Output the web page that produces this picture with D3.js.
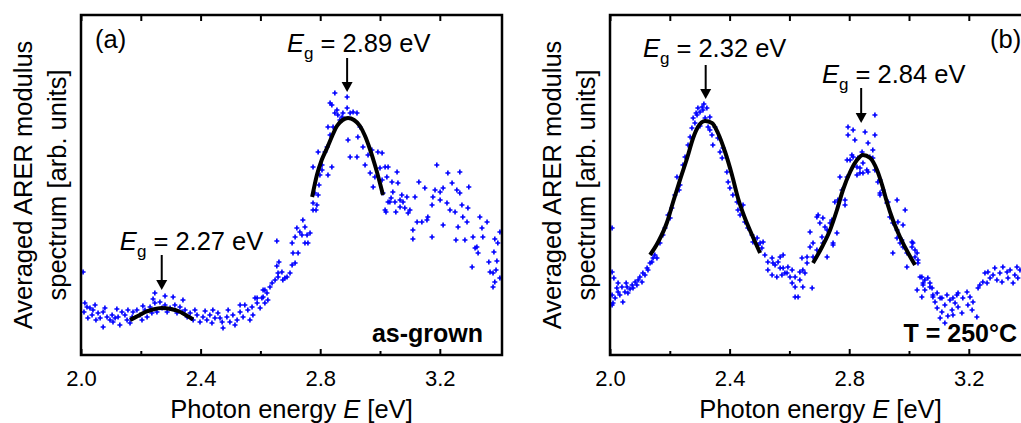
<!DOCTYPE html>
<html>
<head>
<meta charset="utf-8">
<script src="https://cdn.jsdelivr.net/npm/d3@7"></script>
<style>
body { margin: 0; background: #fff; }
text { font-family: "Liberation Sans", Arial, sans-serif; fill: #000; }
</style>
</head>
<body>
<div id="chart"></div>
<script>
// x axis ticks (photon energy, eV)
var xTicks = [2.0, 2.4, 2.8, 3.2];
var xMinorTicks = [2.2, 2.6, 3.0];
var panelNames = ["(a)", "(b)"];
var sampleNames = ["as-grown", "T = 250\u00b0C"];

// (a) as-grown: averaged ARER modulus, [E (eV), value (arb. units)]
var asGrownPoints = [
  [2.007,.83],[2.013,.52],[2.020,.48],[2.010,.43],[2.030,.47],[2.040,.45],[2.047,.50],[2.037,.40],[2.057,.42],[2.064,.37],
  [2.074,.43],[2.087,.38],[2.097,.35],[2.104,.40],[2.107,.33],[2.114,.37],[2.124,.38],[2.130,.30],[2.074,.28],[2.137,.43],
  [2.147,.40],[2.154,.35],[2.164,.32],[2.171,.38],[2.174,.43],[2.187,.45],[2.197,.40],[2.204,.35],[2.214,.45],[2.221,.38],
  [2.231,.48],[2.237,.42],[2.247,.52],[2.254,.43],[2.247,.62],[2.264,.53],[2.271,.47],[2.281,.50],[2.288,.43],[2.298,.47],
  [2.308,.58],[2.314,.50],[2.321,.42],[2.331,.48],[2.338,.43],[2.348,.45],[2.355,.38],[2.365,.42],[2.375,.35],[2.388,.40],
  [2.398,.33],[2.408,.38],[2.421,.35],[2.431,.40],[2.438,.32],[2.448,.37],[2.458,.42],[2.472,.33],[2.475,.27],[2.488,.38],
  [2.498,.33],[2.508,.40],[2.522,.35],[2.532,.43],[2.542,.38],[2.548,.50],[2.558,.45],[2.572,.48],[2.575,.40],[2.589,.52],
  [2.599,.47],[2.605,.57],[2.615,.52],[2.622,.62],[2.632,.68],[2.639,.72],[2.649,.75],[2.655,.89],[2.659,.82],
  [2.023,.37],[2.050,.35],[2.080,.47],[2.120,.46],[2.157,.45],[2.207,.49],[2.241,.56],[2.281,.59],[2.341,.55],[2.381,.45],
  [2.415,.44],[2.441,.45],[2.465,.37],[2.492,.45],[2.515,.30],[2.532,.50],[2.565,.35],[2.582,.57],[2.625,.55],[2.609,.65],
  [2.589,.57],[2.609,.58],[2.615,.65],[2.659,.78],[2.672,.83],[2.675,.75],[2.682,.77],[2.689,.78],[2.699,.82],[2.706,.90],
  [2.716,.92],[2.709,1.02],[2.726,1.02],[2.662,.93],[2.655,1.14],[2.706,1.12],[2.716,1.18],[2.722,1.27],[2.732,1.23],[2.739,1.20],
  [2.749,1.28],[2.742,1.35],[2.756,1.20],[2.759,1.12],[2.749,1.12],[2.766,1.22],
  [2.776,1.52],[2.789,1.50],[2.782,1.62],[2.793,1.60],[2.776,1.45],[2.786,1.45],[2.776,1.88],[2.799,1.80],[2.806,1.90],[2.793,2.03],
  [2.816,2.03],[2.823,2.08],[2.833,2.20],[2.826,2.28],[2.843,2.28],[2.849,2.42],[2.856,2.45],[2.859,2.40],[2.873,2.38],[2.876,2.42],
  [2.890,2.47],[2.900,2.42],[2.910,2.43],[2.923,2.42],[2.839,2.50],[2.849,2.62],[2.890,2.58],[2.893,2.15],[2.900,1.98],[2.923,1.98],
  [2.926,2.18],[2.933,2.28],[2.943,2.08],[2.950,1.90],[2.960,2.00],[2.973,2.05],[2.983,1.78],[2.993,2.03],[3.000,1.87],[3.007,1.75],
  [3.017,1.88],[3.023,1.78],[3.017,1.45],[3.027,1.53],[2.967,1.82],[2.977,1.68],[3.010,1.62],[2.833,2.52],[2.839,1.88],[2.826,1.80],
  [2.806,1.85],[2.796,1.70],[2.866,2.35],
  [3.007,2.02],[3.027,1.88],[3.057,1.83],[3.040,1.73],[3.060,1.72],[3.043,1.63],[3.033,1.53],[3.050,1.53],[3.067,1.55],[3.077,1.53],
  [3.073,1.60],[3.090,1.58],[3.020,1.43],[3.053,1.43],[3.083,1.47],[3.100,1.45],[3.094,1.42],[3.117,1.58],[3.130,1.73],[3.150,1.67],
  [3.110,1.25],[3.110,1.16],[3.124,1.33],[3.140,1.33],[3.157,1.35],[3.160,1.38],[3.174,1.50],[3.177,1.58],[3.190,1.90],[3.184,1.65],
  [3.201,1.63],[3.201,1.55],[3.211,1.67],[3.227,1.82],[3.241,1.72],[3.267,1.83],[3.257,1.65],[3.224,1.52],[3.234,1.45],[3.251,1.43],
  [3.211,1.30],[3.174,1.18],[3.261,1.28],[3.274,1.50],[3.294,1.47],[3.297,1.68],[3.267,1.62],[3.277,1.38],[3.291,1.33],[3.254,1.15],
  [3.284,1.15],[3.311,1.18],[3.334,1.38],[3.341,1.27],[3.358,1.33],[3.344,1.18],[3.324,1.08],[3.328,1.02],[3.318,1.07],[3.384,1.16],
  [3.394,1.12],[3.381,1.03],[3.364,.93],[3.391,.94],[3.308,.88],[3.368,.83],[3.378,.82],[3.388,.85],[3.384,.73],[3.378,.68],
  [3.401,1.23],[3.401,.77],[3.037,1.57],[3.067,1.48]
];
var asGrownFitLow = [[2.164,.35],[2.19,.39],[2.215,.43],[2.24,.455],[2.27,.47],[2.30,.46],[2.325,.44],[2.35,.40],[2.375,.355]];
var asGrownFitHigh = [[2.773,1.58],[2.789,1.80],[2.805,1.95],[2.823,2.07],[2.840,2.19],[2.856,2.29],[2.875,2.35],[2.893,2.37],
  [2.913,2.35],[2.933,2.29],[2.950,2.19],[2.965,2.07],[2.983,1.90],[2.998,1.74],[3.010,1.60]];
var asGrownGaps = [2.27, 2.89];

// (b) T = 250 °C
var annealedPoints = [
  [2.007,1.27],[2.007,.83],[2.013,.77],[2.007,.60],[2.017,.57],[2.023,.67],[2.027,.63],[2.040,.68],[2.033,.60],[2.050,.63],
  [2.057,.68],[2.060,.62],[2.074,.70],[2.077,.67],[2.084,.73],[2.090,.70],[2.094,.75],[2.100,.78],[2.107,.73],[2.110,.82],
  [2.117,.80],[2.124,.87],[2.127,.85],[2.134,.92],[2.140,.93],[2.144,.97],[2.150,1.00],[2.157,.97],[2.043,.53],[2.010,.52],
  [2.027,.72],[2.007,.50],[2.067,.66],[2.054,.72],
  [2.167,1.12],[2.177,1.20],[2.184,1.27],[2.194,1.40],[2.207,1.47],[2.217,1.60],[2.224,1.78],[2.234,1.70],[2.244,1.90],[2.251,1.98],
  [2.261,2.10],[2.268,2.18],[2.274,2.27],[2.278,2.37],[2.284,2.32],[2.291,2.40],[2.294,2.47],[2.308,2.48],[2.311,2.45],[2.324,2.47],
  [2.318,2.37],[2.328,2.28],[2.334,2.25],[2.341,2.20],[2.344,2.10],[2.351,2.28],[2.361,2.17],[2.368,2.03],[2.375,1.97],[2.378,2.07],
  [2.391,1.83],[2.395,1.73],[2.401,1.67],[2.411,1.60],[2.425,1.53],[2.428,1.45],[2.435,1.40],[2.445,1.50],[2.451,1.33],[2.461,1.27],
  [2.475,1.20],[2.478,1.13],[2.492,1.17],[2.495,1.10],[2.502,1.12],[2.508,1.07],[2.512,1.13],[2.301,2.43],[2.288,2.42],[2.314,2.51],
  [2.334,2.38],[2.301,2.29],[2.201,1.37],[2.231,1.65],
  [2.518,1.00],[2.528,.93],[2.542,.97],[2.552,.90],[2.562,.93],[2.569,.87],[2.575,.80],[2.528,.85],[2.542,.80],[2.558,.78],
  [2.545,.92],[2.569,.98],[2.579,.87],[2.592,.82],[2.602,.78],[2.609,.72],[2.619,.68],[2.635,.75],[2.645,.68],[2.652,.82],
  [2.659,.92],[2.642,.97],[2.629,.58],[2.669,1.08],[2.679,.98],
  [2.692,1.38],[2.702,1.32],[2.709,1.18],[2.712,1.12],[2.726,1.25],[2.736,1.32],[2.746,1.12],[2.759,1.22],[2.762,1.55],[2.776,1.65],
  [2.786,1.50],[2.793,1.78],[2.803,1.95],[2.813,1.98],[2.826,1.88],[2.836,1.82],[2.846,1.92],[2.859,1.85],[2.869,1.98],[2.879,2.05],
  [2.886,1.85],[2.896,1.73],[2.903,1.62],[2.913,1.65],[2.926,1.52],[2.936,1.38],[2.946,1.32],[2.960,1.25],[2.946,1.02],[2.970,1.12],
  [2.980,1.08],[2.993,1.02],[3.010,1.08],[3.020,.98],[3.030,.92],[3.037,.78],[3.047,.72],[3.070,.68],[3.053,.65],[3.080,.58],
  [3.094,.62],[3.110,.57],[3.127,.60],[3.147,.57],[3.164,.62],
  [2.886,2.40],[2.886,2.20],[2.863,2.12],[2.853,2.23],[2.813,2.25],[2.796,2.20],[2.819,2.15],[2.843,2.03],[2.829,1.97],[2.809,2.00],
  [2.793,1.95],[2.836,1.87],[2.826,1.80],[2.846,1.82],[2.863,1.83],[2.879,1.97],[2.903,1.75],[2.903,1.60],[2.930,1.53],[2.960,1.55],
  [2.963,1.33],[2.980,1.30],[2.987,1.45],[2.960,1.17],[2.976,1.15],[3.010,1.13],[3.020,1.05],[2.993,.88],[3.027,.65],[2.769,1.78],
  [2.786,1.55],[2.752,1.53],[2.742,1.35],[2.712,1.37],[2.696,1.40],[2.719,1.28],[2.669,1.23],[2.679,1.12],[2.746,1.10],[2.692,1.05],
  [2.726,.98],[2.659,.98],[2.635,.83],[2.645,.85],[2.619,.78],[2.609,.85],[2.595,.88],[2.585,.82],[2.579,1.00],[2.619,.58],
  [2.676,.67],[2.796,2.28],
  [3.013,1.12],[3.027,1.02],[3.030,.95],[3.043,.78],[3.053,.75],[3.063,.77],[3.070,.72],[3.047,.70],[3.077,.67],[3.043,.58],
  [3.080,.60],[3.087,.53],[3.094,.47],[3.104,.57],[3.110,.43],[3.120,.50],[3.137,.55],[3.144,.45],[3.147,.40],[3.154,.52],
  [3.160,.60],[3.164,.48],[3.177,.42],[3.180,.57],[3.194,.63],[3.197,.50],[3.204,.58],[3.211,.45],[3.214,.53],[3.227,.38],
  [3.231,.67],[3.237,.70],[3.247,.73],[3.254,.82],[3.261,.72],[3.264,.83],[3.271,.77],[3.281,.80],[3.287,.87],[3.294,.75],
  [3.304,.82],[3.311,.73],[3.314,.88],[3.328,.83],[3.331,.77],[3.338,.85],[3.348,.72],[3.354,.80],[3.361,.88],[3.364,.77],
  [3.120,.32],[3.104,.37],[3.130,.39],[3.371,.85]
];
var annealedFitLow = [[2.134,1.00],[2.161,1.13],[2.191,1.33],[2.211,1.53],[2.234,1.75],[2.258,1.97],[2.278,2.17],[2.294,2.28],
  [2.318,2.34],[2.341,2.32],[2.361,2.22],[2.385,2.03],[2.408,1.80],[2.428,1.57],[2.451,1.37],[2.475,1.20],[2.502,1.02]];
var annealedFitHigh = [[2.679,.92],[2.709,1.08],[2.736,1.25],[2.759,1.45],[2.779,1.65],[2.803,1.83],[2.826,1.95],[2.846,2.00],
  [2.870,1.97],[2.893,1.85],[2.910,1.70],[2.926,1.53],[2.946,1.35],[2.970,1.18],[2.997,1.02],[3.020,.90]];
var annealedGaps = [2.32, 2.84];

// layout
var width = 1021, height = 423;
var plotTop = 15, plotBottom = 355, plotWidth = 421;
var xDomain = [2.0, 3.408], yDomain = [0, 3.4];

var svg = d3.select("#chart").append("svg")
    .attr("width", width)
    .attr("height", height)
    .style("display", "block");
svg.append("rect").attr("width", width).attr("height", height).attr("fill", "#fff");

var panels = [
    {left: 81, name: panelNames[0], sample: sampleNames[0], sampleInset: 19,
     points: asGrownPoints, fits: [asGrownFitLow, asGrownFitHigh], gaps: asGrownGaps,
     labels: [{x: 2.130, y: 1.05, top: 1.00, tip: 0.65}, {x: 2.689, y: 3.03, top: 2.97, tip: 2.63}],
     nameX: 95},
    {left: 610, name: panelNames[1], sample: sampleNames[1], sampleInset: 14,
     points: annealedPoints, fits: [annealedFitLow, annealedFitHigh], gaps: annealedGaps,
     labels: [{x: 2.110, y: 2.98, top: 2.90, tip: 2.56}, {x: 2.709, y: 2.72, top: 2.67, tip: 2.32}],
     nameX: 990}
];

var yScale = d3.scaleLinear().domain(yDomain).range([plotBottom, plotTop]);
var cross = "M-2.5,0H2.5M0,-2.5V2.5";

panels.forEach(function (p) {
    var xScale = d3.scaleLinear().domain(xDomain).range([p.left, p.left + plotWidth]);
    var g = svg.append("g");

    // scatter
    g.append("g").selectAll("path")
        .data(p.points)
        .enter()
        .append("path")
        .attr("d", cross)
        .attr("transform", function (d) {
            return "translate(" + xScale(d[0]) + "," + yScale(d[1]) + ")";
        })
        .attr("stroke", "#0000ff")
        .attr("stroke-width", 1.6)
        .attr("fill", "none");

    // fits
    var line = d3.line()
        .x(function (d) { return xScale(d[0]); })
        .y(function (d) { return yScale(d[1]); })
        .curve(d3.curveMonotoneX);
    p.fits.forEach(function (f) {
        g.append("path")
            .attr("d", line(f))
            .attr("fill", "none")
            .attr("stroke", "#000")
            .attr("stroke-width", 4)
            .attr("stroke-linecap", "butt");
    });

    // frame
    g.append("rect")
        .attr("x", xScale(xDomain[0]))
        .attr("y", plotTop)
        .attr("width", plotWidth)
        .attr("height", plotBottom - plotTop)
        .attr("fill", "none")
        .attr("stroke", "#000")
        .attr("stroke-width", 2.5);

    // bottom axis: major (labelled) and minor ticks, pointing inward
    var bottom = g.append("g")
        .attr("transform", "translate(0," + plotBottom + ")")
        .call(d3.axisBottom(xScale).tickValues(xTicks).tickSizeInner(-6).tickSizeOuter(0)
            .tickPadding(15).tickFormat(d3.format(".1f")));
    bottom.append("g")
        .call(d3.axisBottom(xScale).tickValues(xMinorTicks).tickSizeInner(-4).tickSizeOuter(0).tickFormat(""));
    var top = g.append("g")
        .attr("transform", "translate(0," + plotTop + ")")
        .call(d3.axisTop(xScale).tickValues(xTicks.concat(xMinorTicks)).tickSizeInner(-6).tickSizeOuter(0).tickFormat(""));
    [bottom, top].forEach(function (a) {
        a.selectAll(".domain").remove();
        a.selectAll("line").attr("stroke", "#000").attr("stroke-width", 2);
    });
    bottom.selectAll("text")
        .attr("font-size", 22)
        .attr("font-family", "'Liberation Sans', Arial, sans-serif")
        .attr("fill", "#000");

    // axis titles
    var xt = g.append("text")
        .attr("x", p.left + plotWidth / 2)
        .attr("y", 418)
        .attr("text-anchor", "middle")
        .attr("font-size", 25.5);
    xt.append("tspan").text("Photon energy ");
    xt.append("tspan").attr("font-style", "italic").text("E");
    xt.append("tspan").text(" [eV]");

    g.append("text")
        .attr("transform", "rotate(-90)")
        .attr("x", -(plotTop + plotBottom) / 2)
        .attr("y", p.left - 49)
        .attr("text-anchor", "middle")
        .attr("font-size", 25.5)
        .text("Averaged ARER modulus");
    g.append("text")
        .attr("transform", "rotate(-90)")
        .attr("x", -(plotTop + plotBottom) / 2)
        .attr("y", p.left - 15)
        .attr("text-anchor", "middle")
        .attr("font-size", 25.5)
        .text("spectrum [arb. units]");

    // panel name and sample label
    g.append("text")
        .attr("x", p.nameX)
        .attr("y", 48)
        .attr("font-size", 25.5)
        .text(p.name);
    g.append("text")
        .attr("x", p.left + plotWidth - p.sampleInset)
        .attr("y", 342)
        .attr("text-anchor", "end")
        .attr("font-size", 25)
        .attr("font-weight", "bold")
        .text(p.sample);

    // band gap annotations
    p.gaps.forEach(function (eg, i) {
        var lab = p.labels[i];
        var t = g.append("text")
            .attr("x", xScale(lab.x))
            .attr("y", yScale(lab.y))
            .attr("font-size", 25.5);
        t.append("tspan").attr("font-style", "italic").text("E");
        t.append("tspan").attr("font-size", 17).attr("dy", 7).text("g");
        t.append("tspan").attr("dy", -7).text(" = " + eg.toFixed(2) + " eV");

        var ax = xScale(eg), y0 = yScale(lab.top), y1 = yScale(lab.tip);
        g.append("line")
            .attr("x1", ax).attr("x2", ax)
            .attr("y1", y0).attr("y2", y1 - 8)
            .attr("stroke", "#000")
            .attr("stroke-width", 2);
        g.append("path")
            .attr("d", "M" + (ax - 5.5) + "," + (y1 - 10) + "L" + (ax + 5.5) + "," + (y1 - 10) + "L" + ax + "," + y1 + "Z")
            .attr("fill", "#000");
    });
});
</script>
</body>
</html>
